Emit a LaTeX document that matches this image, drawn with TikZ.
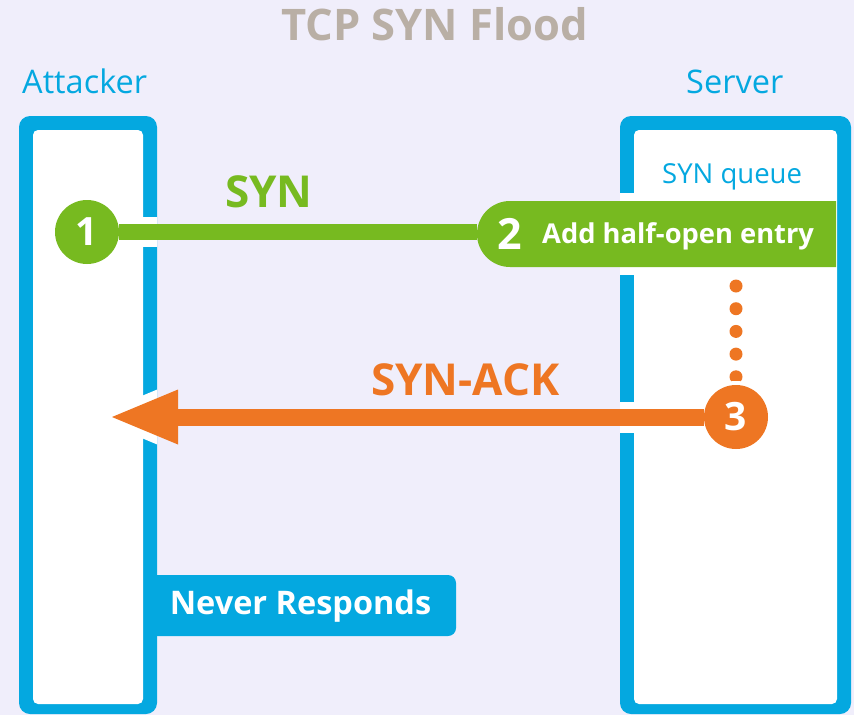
\documentclass[tikz,border=0pt]{standalone}
\usepackage{fontspec}
\setmainfont{Open Sans}
\usetikzlibrary{arrows.meta,shapes.misc}

\definecolor{pagebg}{HTML}{F0EEFB}
\definecolor{lanec}{HTML}{04A8E0}
\definecolor{sync}{HTML}{77BA20}
\definecolor{ackc}{HTML}{EE7623}
\definecolor{titlec}{HTML}{B9AFA5}

\pgfdeclarelayer{base}
\pgfdeclarelayer{dots}
\pgfdeclarelayer{halo}
\pgfdeclarelayer{wires}
\pgfsetlayers{base,dots,halo,wires,main}

\newcommand{\fsz}[1]{\fontsize{#1}{#1}\selectfont}

\tikzset{
  lane/.style={fill=lanec, rounded corners=11pt, inner sep=0pt, outer sep=0pt},
  laneinner/.style={fill=white, rounded corners=5pt},
  heading/.style={text=lanec, font=\fsz{32.5}, anchor=base west, inner sep=0pt},
  msglabel/.style={font=\fsz{44}\bfseries, anchor=base west, inner sep=0pt},
  stepdot/.style={circle, minimum size=64pt, inner sep=0pt, outer sep=0pt,
                  text=white, font=\fsz{39}\bfseries},
  halo/.style={white, line width=#1},
  synwire/.style={sync, line width=16pt},
  ackwire/.style={ackc, line width=17pt,
                  -{Triangle[length=66pt, width=55pt, line width=0pt]}},
  queuedots/.style={ackc, line width=13pt, line cap=round,
                    dash pattern=on 0pt off 22.7pt},
}

\begin{document}
\begin{tikzpicture}[x=1pt, y=-1pt]

% page and swim lanes
\begin{pgfonlayer}{base}
  \fill[pagebg] (0,0) rectangle (854,715);
  \node[lane, minimum width=138pt, minimum height=598pt] (att) at (88,415) {};
  \node[lane, minimum width=231pt, minimum height=598pt] (srv) at (735.5,415) {};
  \fill[laneinner] ([shift={(14pt,-14pt)}]att.north west)
                   rectangle ([shift={(-14pt,10pt)}]att.south east);
  \fill[laneinner] ([shift={(14pt,-14pt)}]srv.north west)
                   rectangle ([shift={(-14pt,10pt)}]srv.south east);
\end{pgfonlayer}

% titles
\node[font=\fsz{43.5}\bfseries, text=titlec, anchor=base, inner sep=0pt]
  (title) at (434.5,40) {TCP SYN Flood};
\node[heading] (atthead) at (22,93) {Attacker};
\node[heading] (srvhead) at (686,93) {Server};
\node[text=lanec, font=\fsz{27.5}, anchor=base west, inner sep=0pt]
  (queue) at (662,183) {SYN queue};

% steps
\node[stepdot, fill=sync] (n1) at (87,232) {1};
\node[rounded rectangle, rounded rectangle right arc=none, fill=sync,
      minimum width=359pt, minimum height=66pt, inner sep=0pt, outer sep=0pt]
  (n2) at (656.5,234) {};
\node[text=white, font=\fsz{43}\bfseries, anchor=base west, inner sep=0pt]
  (n2num) at (497,249) {2};
\node[text=white, font=\fsz{27.3}\bfseries, anchor=base west, inner sep=0pt]
  (n2txt) at (542,243) {Add half-open entry};
\node[stepdot, fill=ackc] (n3) at (736,417) {3};
\coordinate (tip) at (112,417);

\node[msglabel, text=sync] (synlbl) at (225,207) {SYN};
\node[msglabel, text=ackc] (acklbl) at (371,395) {SYN-ACK};

\node[fill=lanec, rounded corners=8pt, minimum width=311pt, minimum height=61pt,
      inner sep=0pt, text=white, font=\fsz{32.5}\bfseries,
      text height=23pt, text depth=6pt]
  (never) at (300.5,605.5) {Never Responds};

% queue dots between the entry and step 3
\begin{pgfonlayer}{dots}
  \draw[queuedots] ([yshift=-19pt]n2.south -| n3) -- ([yshift=8pt]n3.north);
\end{pgfonlayer}

% white gaps where messages cross the lane borders
\begin{pgfonlayer}{halo}
  \begin{scope}
    \clip (att.north west) rectangle (att.south east)
          (srv.north west) rectangle (srv.south east);
    \draw[halo=30pt] (n1) -- (n1 -| n2.west);
    \fill[white] ([shift={(-8pt,8pt)}]n2.north west)
                 rectangle ([yshift=-8pt]n2.south east);
    \draw[halo=31pt] (n3) -- (tip);
    \draw[halo=16pt, line join=round]
      (tip) -- ++(66,-27.5) -- ++(0,55) -- cycle;
    \fill[white] (n3) circle (36pt);
  \end{scope}
\end{pgfonlayer}

% messages
\begin{pgfonlayer}{wires}
  \draw[synwire] (n1) -- (n1 -| n2.west);
  \draw[ackwire] (n3) -- (tip);
\end{pgfonlayer}

\end{tikzpicture}
\end{document}
